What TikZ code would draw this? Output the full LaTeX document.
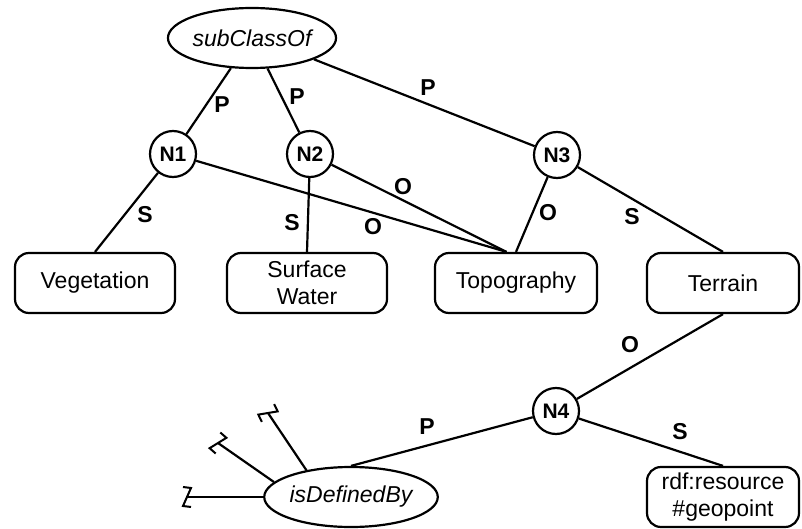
\documentclass[tikz,border=0pt]{standalone}
\usepackage{fontspec}
\setmainfont{Liberation Sans}
\usetikzlibrary{shapes.geometric}
\begin{document}
\begin{tikzpicture}[x=1pt,y=-1pt, line width=2.2pt,
 box/.style={draw, rounded corners=14pt, minimum width=160pt, minimum height=60pt, align=center, font=\fontsize{23}{27}\selectfont, inner sep=0},
 circ/.style={draw, circle, minimum size=46pt, inner sep=0, font=\bfseries\fontsize{21}{24}\selectfont},
 ell/.style={draw, ellipse, minimum width=160pt, minimum height=60pt, inner sep=0, font=\itshape\fontsize{23}{27}\selectfont},
 lbl/.style={font=\bfseries\fontsize{23}{26}\selectfont, inner sep=0},
 zig/.style={line width=2pt, line join=miter}]
\useasboundingbox (0,0) rectangle (802,529);

\node[ell] (sub) at (252,38) {subClassOf};
\node[circ] (N1) at (173,154) {N1};
\node[circ] (N2) at (310,154) {N2};
\node[circ] (N3) at (557,155) {N3};
\node[circ] (N4) at (556,411) {N4};

\node[box] (veg) at (95,283) {Vegetation};
\node[box] (sw) at (307,283) {Surface\\Water};
\node[box, minimum width=162pt] (topo) at (516,283) {Topography};
\node[box, minimum width=152pt] (ter) at (723,283) {Terrain};
\node[box, minimum width=152pt] (rdf) at (723,497) {rdf:resource\\\#geopoint};
\node[ell, minimum width=162pt] (idb) at (351,497) {isDefinedBy};

\draw (sub.235) -- (N1);
\draw (sub.297) -- (N2);
\draw (sub.341) -- (N3);
\draw (N1) -- (veg.north);
\draw (N2) -- (sw.north);
\draw (N1) -- (topo.107);
\draw (N2) -- (topo.107);
\draw (N3) -- (topo.north);
\draw (N3) -- (ter.north);
\draw (ter.south) -- (N4);
\draw (N4) -- (idb.north);
\draw (N4) -- (rdf.north);

\coordinate (e1) at (187,497);
\coordinate (e2) at (218,443);
\coordinate (e3) at (268,413);
\draw (idb.west) -- (e1);
\draw (idb.169) -- (e2);
\draw (idb.149) -- (e3);
\draw[zig] (183,487) -- (191,488) -- (183,506) -- (191,507);
\draw[zig] (220.3,432.5) -- (226.4,437.8) -- (209.6,448.2) -- (215.7,453.5);
\draw[zig] (274.1,404.1) -- (277.7,411.4) -- (258.3,414.6) -- (261.9,421.9);

\node[lbl] (l1) at (222,105) {P};
\node[lbl] (l2) at (297,97) {P};
\node[lbl] (l3) at (428,88) {P};
\node[lbl] (l4) at (145,215) {S};
\node[lbl] (l5) at (292,223) {S};
\node[lbl] (l6) at (373,227) {O};
\node[lbl] (l7) at (403,187) {O};
\node[lbl] (l8) at (548,213) {O};
\node[lbl] (l9) at (632,217) {S};
\node[lbl] (l10) at (630,345) {O};
\node[lbl] (l11) at (427,427) {P};
\node[lbl] (l12) at (680,432) {S};
\end{tikzpicture}
\end{document}
